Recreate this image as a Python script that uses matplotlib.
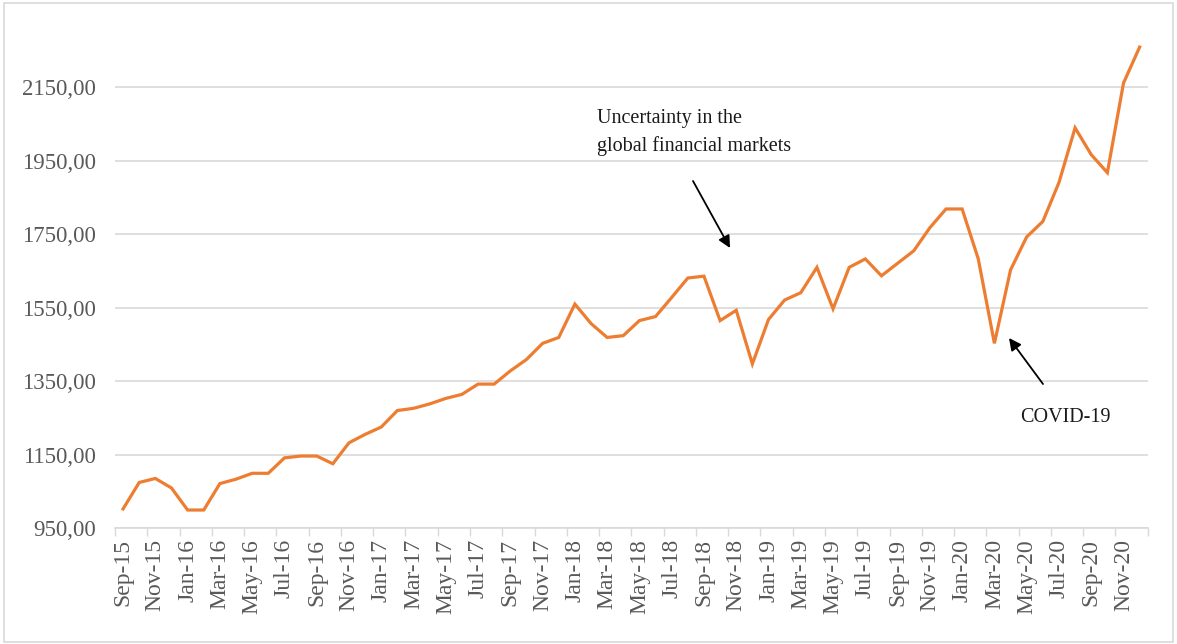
import matplotlib
matplotlib.use("Agg")
import matplotlib.pyplot as plt
from matplotlib.ticker import FixedLocator, FuncFormatter
from matplotlib.patches import Rectangle

plt.rcParams['font.family'] = ['Liberation Serif', 'DejaVu Serif']

months = ["Sep-15", "Oct-15", "Nov-15", "Dec-15", "Jan-16", "Feb-16", "Mar-16", "Apr-16",
          "May-16", "Jun-16", "Jul-16", "Aug-16", "Sep-16", "Oct-16", "Nov-16", "Dec-16",
          "Jan-17", "Feb-17", "Mar-17", "Apr-17", "May-17", "Jun-17", "Jul-17", "Aug-17",
          "Sep-17", "Oct-17", "Nov-17", "Dec-17", "Jan-18", "Feb-18", "Mar-18", "Apr-18",
          "May-18", "Jun-18", "Jul-18", "Aug-18", "Sep-18", "Oct-18", "Nov-18", "Dec-18",
          "Jan-19", "Feb-19", "Mar-19", "Apr-19", "May-19", "Jun-19", "Jul-19", "Aug-19",
          "Sep-19", "Oct-19", "Nov-19", "Dec-19", "Jan-20", "Feb-20", "Mar-20", "Apr-20",
          "May-20", "Jun-20", "Jul-20", "Aug-20", "Sep-20", "Oct-20", "Nov-20", "Dec-20"]

values = [1002, 1074, 1085, 1059, 999, 999, 1071, 1083,
          1099, 1099, 1141, 1146, 1146, 1125, 1182, 1205,
          1225, 1270, 1276, 1288, 1303, 1314, 1342, 1342,
          1378, 1409, 1453, 1469, 1560, 1507, 1469, 1474,
          1515, 1526, 1578, 1631, 1636, 1515, 1543, 1397,
          1518, 1571, 1591, 1660, 1547, 1660, 1683, 1637,
          1671, 1705, 1768, 1819, 1819, 1683, 1453, 1653,
          1743, 1785, 1891, 2040, 1967, 1918, 2162, 2260]

y_ticks = [950, 1150, 1350, 1550, 1750, 1950, 2150]

W, H = 1177, 644
fig = plt.figure(figsize=(W / 100, H / 100), dpi=100)
ax = fig.add_axes([115 / W, 1 - 528 / H, (1147.7 - 115) / W, (528 - 36) / H])

x = list(range(len(values)))
ax.plot(x, values, color='#ED7D31', lw=2.3, solid_joinstyle='miter', zorder=3)

ax.set_xlim(-0.5, len(values) - 0.5)
ax.set_ylim(950, 950 + (528 - 36) * 2.724)

ax.yaxis.set_major_locator(FixedLocator(y_ticks))
ax.yaxis.set_major_formatter(FuncFormatter(lambda v, p: f"{v:.2f}".replace('.', ',')))
ax.grid(axis='y', color='#D9D9D9', lw=1.2, zorder=0)
ax.tick_params(axis='y', length=0, pad=14, labelsize=16.5, labelcolor='#595959')

ax.set_xticks(x[::2])
ax.set_xticklabels(months[::2], rotation=90)
ax.set_xticks([i - 0.5 for i in range(0, len(values) + 1, 2)], minor=True)
ax.tick_params(axis='x', which='major', length=0, pad=8, labelsize=17, labelcolor='#595959')
ax.tick_params(axis='x', which='minor', length=6, width=1, color='#D9D9D9')

for s in ['top', 'right', 'left']:
    ax.spines[s].set_visible(False)
ax.spines['bottom'].set_color('#D9D9D9')
ax.spines['bottom'].set_linewidth(1.2)

# annotations
fig.text(597 / W, 1 - 118 / H, "Uncertainty in the", fontsize=14.5, color='#1a1a1a',
         ha='left', va='center')
fig.text(597 / W, 1 - 146 / H, "global financial markets", fontsize=14.5, color='#1a1a1a',
         ha='left', va='center')
fig.text(1020 / W, 1 - 418 / H, "COVID-19", fontsize=14.5, color='#1a1a1a',
         ha='left', va='center')

ax.annotate("", xy=(730 / W, 1 - 248 / H), xytext=(693 / W, 1 - 181 / H),
            xycoords='figure fraction', textcoords='figure fraction',
            arrowprops=dict(arrowstyle='-|>', color='black', lw=1.3,
                            mutation_scale=18, shrinkA=0, shrinkB=0))
ax.annotate("", xy=(1009 / W, 1 - 338 / H), xytext=(1043 / W, 1 - 384 / H),
            xycoords='figure fraction', textcoords='figure fraction',
            arrowprops=dict(arrowstyle='-|>', color='black', lw=1.3,
                            mutation_scale=18, shrinkA=0, shrinkB=0))

fig.patches.append(Rectangle((4 / W, 2 / H), (1173 - 4) / W, (641 - 2) / H,
                             transform=fig.transFigure, fill=False,
                             edgecolor='#D9D9D9', lw=1.2))

fig.savefig("out.png", dpi=100)
